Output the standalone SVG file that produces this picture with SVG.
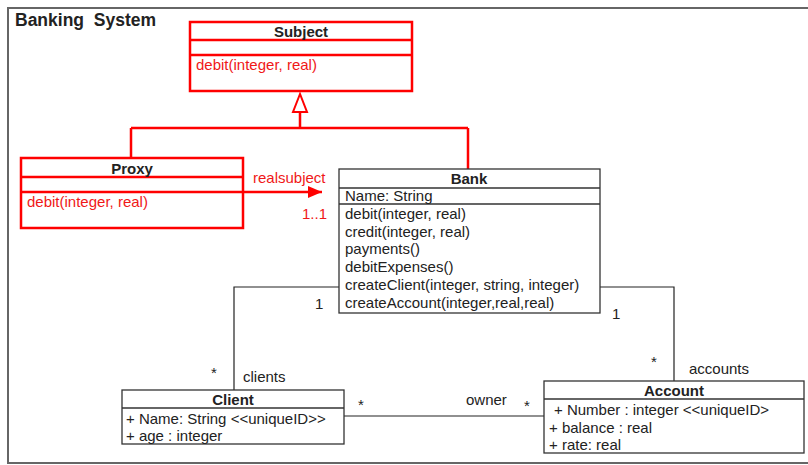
<svg xmlns="http://www.w3.org/2000/svg" width="808" height="465" viewBox="0 0 808 465">
<style>
text{font-family:"Liberation Sans",Arial,sans-serif;font-size:15px;fill:#222}
.b{font-weight:bold}
.r{fill:#f01818}
.rb{fill:none;stroke:#f00;stroke-width:2.5}
.kb{fill:#fff;stroke:#333;stroke-width:1.3}
.kl{fill:none;stroke:#333;stroke-width:1.3}
.line{fill:none;stroke:#222;stroke-width:1.2}
.rl{fill:none;stroke:#f00;stroke-width:2.5}
</style>
<defs>
<marker id="tri" markerWidth="16" markerHeight="16" refX="14" refY="6" orient="auto" markerUnits="userSpaceOnUse">
<path d="M0,0 L14,6 L0,12 Z" fill="#f00"/>
</marker>
</defs>
<rect width="808" height="465" fill="#fff"/>
<rect x="8" y="8" width="812" height="455" fill="none" stroke="#666" stroke-width="2"/>
<text class="b" x="15" y="26" style="white-space:pre;font-size:17.5px">Banking  System</text>

<g id="connectors">
<path class="rl" d="M300,112 V128 M131,128 H468 M131,128 V158 M468,128 V169"/>
<path d="M300,94 L293,112 L307,112 Z" fill="#fff" stroke="#f00" stroke-width="2"/>
<path class="rl" d="M243,192 H322" marker-end="url(#tri)"/>
<text class="r" x="253" y="183">realsubject</text>
<text class="r" x="302" y="219">1..1</text>
<path class="line" d="M339,287 H234 V390"/>
<text x="315" y="309">1</text>
<text x="211" y="378">*</text>
<text x="243" y="382">clients</text>
<path class="line" d="M600,287 H674 V381"/>
<text x="612" y="319">1</text>
<text x="651" y="367">*</text>
<text x="689" y="374">accounts</text>
<path class="line" d="M344,416 H544"/>
<text x="358" y="410">*</text>
<text x="466" y="405">owner</text>
<text x="524" y="411">*</text>
</g>

<g id="subject">
<rect x="190" y="22" width="222" height="69" fill="#fff" class="rb"/>
<path class="rl" d="M190,40 H412 M190,55 H412"/>
<text class="b" x="301" y="37" text-anchor="middle">Subject</text>
<text class="r" x="196" y="70">debit(integer, real)</text>
</g>

<g id="proxy">
<rect x="21" y="158" width="222" height="70" fill="#fff" class="rb"/>
<path class="rl" d="M21,177 H243 M21,192 H243"/>
<text class="b" x="132" y="174" text-anchor="middle">Proxy</text>
<text class="r" x="27" y="207">debit(integer, real)</text>
</g>

<g id="bank">
<rect x="339" y="169" width="261" height="144" class="kb"/>
<path class="kl" d="M339,188 H600 M339,204 H600"/>
<text class="b" x="469" y="184" text-anchor="middle">Bank</text>
<text x="345" y="201">Name: String</text>
<text x="345" y="219">debit(integer, real)</text>
<text x="345" y="237">credit(integer, real)</text>
<text x="345" y="254">payments()</text>
<text x="345" y="272">debitExpenses()</text>
<text x="345" y="290">createClient(integer, string, integer)</text>
<text x="345" y="308">createAccount(integer,real,real)</text>
</g>

<g id="client">
<rect x="122" y="390" width="222" height="54" class="kb"/>
<path class="kl" d="M122,408 H344"/>
<text class="b" x="233" y="405" text-anchor="middle">Client</text>
<text x="126" y="424">+ Name: String &lt;&lt;uniqueID&gt;&gt;</text>
<text x="126" y="441">+ age : integer</text>
</g>

<g id="account">
<rect x="544" y="381" width="260" height="72" class="kb"/>
<path class="kl" d="M544,399 H804"/>
<text class="b" x="674" y="396" text-anchor="middle">Account</text>
<text x="554" y="415">+ Number : integer &lt;&lt;uniqueID&gt;</text>
<text x="549" y="433">+ balance : real</text>
<text x="549" y="450">+ rate: real</text>
</g>
</svg>
